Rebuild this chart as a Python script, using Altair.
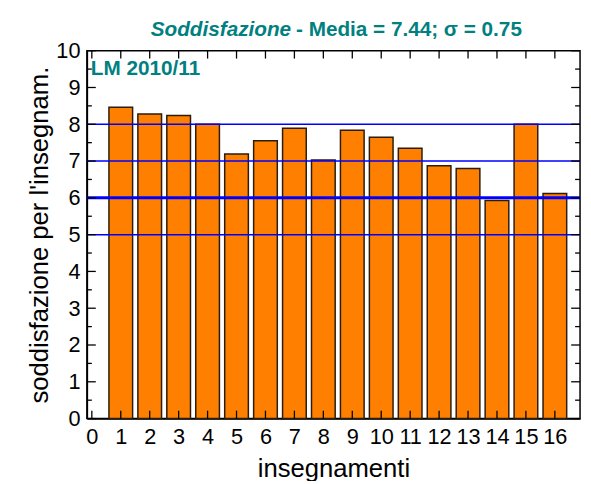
import altair as alt
import pandas as pd

# ---- data ----
insegnamenti = list(range(1, 17))
soddisfazione = [8.46, 8.28, 8.24, 8.00, 7.19, 7.55, 7.89, 7.03,
                 7.84, 7.65, 7.35, 6.87, 6.80, 5.93, 8.00, 6.12]
x_ticks = list(range(0, 17))
y_ticks = list(range(0, 11))
y_minor = [0.5, 1.5, 2.5, 3.5, 4.5, 5.5, 6.5, 7.5, 8.5, 9.5]
ref_lines = [5, 6, 7, 8]
ref_widths = [1.5, 3.0, 1.5, 1.5]
title_italic = ["Soddisfazione"]
title_rest = ["- Media = 7.44; σ = 0.75"]
label_text = ["LM 2010/11"]

W, H = 500, 373
TEAL = "#008080"
FONT = "Liberation Sans"

xs = alt.Scale(domain=[0, 16.7], nice=False, zero=False)
ys = alt.Scale(domain=[0, 10], nice=False)
xaxis = alt.Axis(values=x_ticks, title="insegnamenti", format="d",
                 labelPadding=8, titlePadding=9)
yaxis = alt.Axis(values=y_ticks, title="soddisfazione per l'insegnam.",
                 format="d", labelPadding=7, titlePadding=3)

bars_df = pd.DataFrame({"x": insegnamenti, "y": soddisfazione})
bars = alt.Chart(bars_df).mark_bar(
    size=24, color="#FF8000", stroke="#2b1d0a", strokeWidth=1.5
).encode(
    x=alt.X("x:Q", scale=xs, axis=xaxis),
    y=alt.Y("y:Q", scale=ys, axis=yaxis),
)

ref_df = pd.DataFrame({"y": ref_lines, "w": ref_widths})
refs = alt.Chart(ref_df).mark_rule(color="#0000FF").encode(
    y=alt.Y("y:Q", scale=ys, axis=yaxis),
    strokeWidth=alt.StrokeWidth("w:Q", scale=None),
)

ymaj = pd.DataFrame({"y": y_ticks})
ymin = pd.DataFrame({"y": y_minor})
xmaj = pd.DataFrame({"x": x_ticks})

tick_style = dict(color="black", strokeWidth=1.3)
tl = alt.Chart(ymaj).mark_rule(**tick_style).encode(
    y=alt.Y("y:Q", scale=ys, axis=yaxis), x=alt.value(0), x2=alt.value(9))
tr = alt.Chart(ymaj).mark_rule(**tick_style).encode(
    y=alt.Y("y:Q", scale=ys, axis=yaxis), x=alt.value(W - 9), x2=alt.value(W))
tlm = alt.Chart(ymin).mark_rule(**tick_style).encode(
    y=alt.Y("y:Q", scale=ys, axis=yaxis), x=alt.value(0), x2=alt.value(5))
trm = alt.Chart(ymin).mark_rule(**tick_style).encode(
    y=alt.Y("y:Q", scale=ys, axis=yaxis), x=alt.value(W - 5), x2=alt.value(W))
tt = alt.Chart(xmaj).mark_rule(**tick_style).encode(
    x=alt.X("x:Q", scale=xs, axis=xaxis), y=alt.value(0), y2=alt.value(8))
tb = alt.Chart(xmaj).mark_rule(**tick_style).encode(
    x=alt.X("x:Q", scale=xs, axis=xaxis), y=alt.value(H - 8), y2=alt.value(H))

t1 = alt.Chart(pd.DataFrame({"t": title_italic})).mark_text(
    font=FONT, fontSize=21, fontWeight="bold", fontStyle="italic",
    color=TEAL, align="right", baseline="middle"
).encode(text="t:N", x=alt.value(207), y=alt.value(-21))
t2 = alt.Chart(pd.DataFrame({"t": title_rest})).mark_text(
    font=FONT, fontSize=21, fontWeight="bold",
    color=TEAL, align="left", baseline="middle"
).encode(text="t:N", x=alt.value(212), y=alt.value(-21))
lm = alt.Chart(pd.DataFrame({"t": label_text})).mark_text(
    font=FONT, fontSize=21, fontWeight="bold",
    color=TEAL, align="left", baseline="middle"
).encode(text="t:N", x=alt.value(4), y=alt.value(19))

chart = alt.layer(
    bars, refs, tl, tr, tlm, trm, tt, tb, t1, t2, lm
).properties(
    width=W, height=H,
    autosize=alt.AutoSizeParams(type="none"),
    padding={"left": 80, "top": 40, "right": 3, "bottom": 60},
).configure(
    font=FONT,
).configure_view(
    stroke="black", strokeWidth=1.5
).configure_axis(
    labelFont=FONT, titleFont=FONT,
    labelFontSize=22, titleFontSize=26, titleFontWeight="normal",
    labelColor="black", titleColor="black",
    domainColor="black", domainWidth=1.5,
    ticks=False, tickSize=0, grid=False,
)

chart.save("out.html", embed_options={"renderer": "svg", "actions": False})
